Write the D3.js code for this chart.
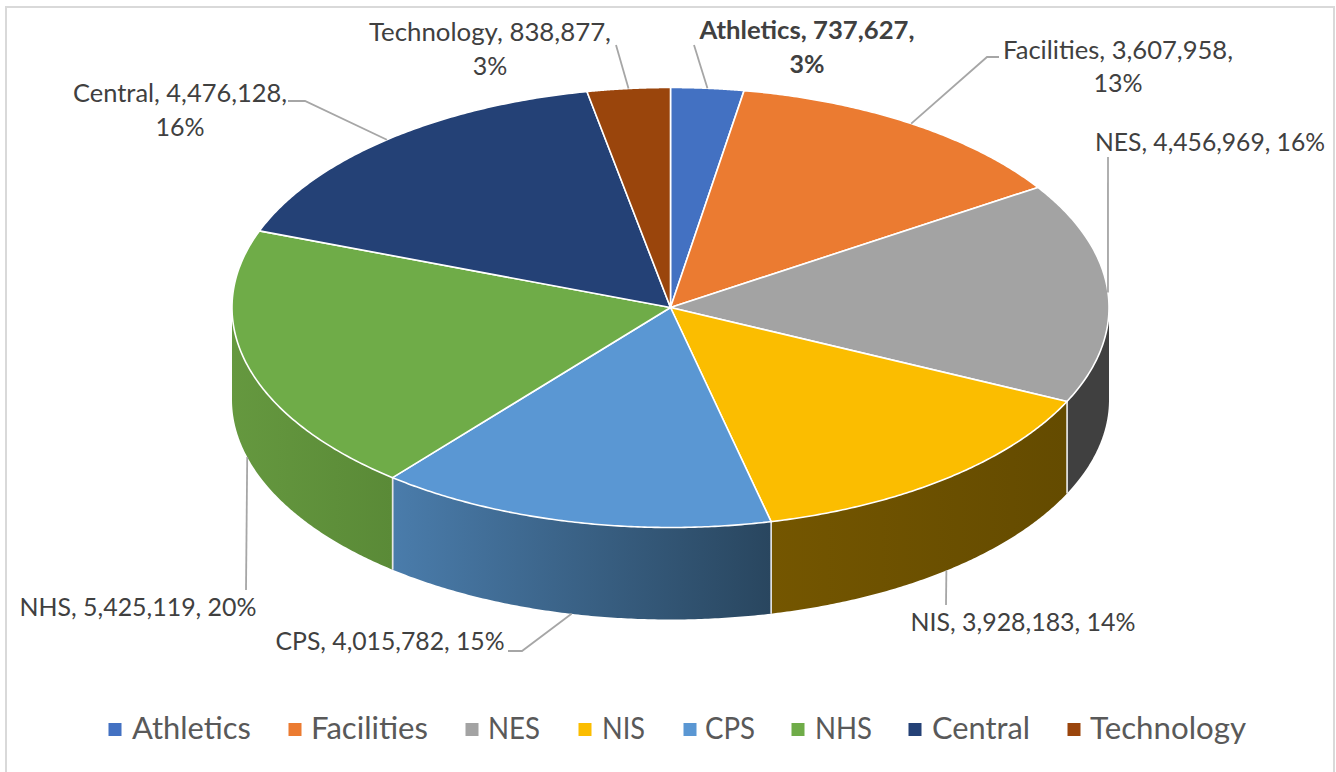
<!DOCTYPE html>
<html><head><meta charset="utf-8">
<script src="https://cdn.jsdelivr.net/npm/d3@7/dist/d3.min.js"></script>
<style>html,body{margin:0;padding:0;background:#fff}svg{display:block}text{font-family:Lato,"Open Sans",sans-serif}</style>
</head><body><svg id="c" width="1336" height="772"></svg>
<script>
const categories=["Athletics","Facilities","NES","NIS","CPS","NHS","Central","Technology"];
const values=[737627,3607958,4456969,3928183,4015782,5425119,4476128,838877];
const percents=["3%","13%","16%","14%","15%","20%","16%","3%"];
const topColors=["#4371C2","#EB7B31","#A3A3A3","#FBBD00","#5A97D3","#6FAC48","#244176","#9A450C"];
// wall shading [left colour, right colour] per category
const wallColors={NES:["#404040","#404040"],NIS:["#745600","#644B00"],CPS:["#4A7CAB","#29465F"],NHS:["#65983F","#5A8A37"]};

// label layout: text centre, line centres, first-line width, leader end points
const labelLayout=[
 {cx:807,ys:[30,64],w:215,bold:true,leader:[[694,45]],wrap:true},
 {cx:1118,ys:[50,83],w:230,leader:[[987,57],[999,57]],wrap:true},
 {cx:1210,ys:[142],w:230,leader:[[1108,157]]},
 {cx:1023,ys:[622],w:225,leader:[[946,605]]},
 {cx:390,ys:[641],w:229,leader:[[522,651],[508,651]]},
 {cx:138,ys:[607],w:237,leader:[[246,590]]},
 {cx:180,ys:[93,127],w:214,leader:[[305,101],[288,101]],wrap:true},
 {cx:490,ys:[32,66],w:242,leader:[[616,45]],wrap:true}
];
const legendLayout=[[108.5,132,119],[288.5,311,117],[465.5,488,52],[578.5,602,43],[683.5,705,50],[791.5,815,57],[908.5,932,98],[1067.5,1090,156]];

const W=1336,H=772,cx=670.5,cy=307.5,rx=438.5,ry=220,depth=92;
const svg=d3.select("#c");
const fmt=d3.format(",");
const pie=d3.pie().sort(null)(values);
const sx=d3.scaleLinear().domain([-1,1]).range([cx-rx,cx+rx]);
const sy=d3.scaleLinear().domain([-1,1]).range([cy+ry,cy-ry]);
const px=a=>[sx(Math.sin(a)),sy(Math.cos(a))];
const line=d3.line();
const arcPts=(a0,a1)=>d3.range(0,121).map(i=>px(a0+(a1-a0)*i/120));

// chart frame
svg.append("rect").attr("x",6).attr("y",7).attr("width",1328).attr("height",790)
  .attr("fill","#fff").attr("stroke","#d9d9d9").attr("stroke-width",2);

const defs=svg.append("defs");
// side walls
const front0=Math.PI/2,front1=Math.PI*1.5;
pie.forEach((p,i)=>{
  const cols=wallColors[categories[i]];
  if(!cols) return;
  const a0=Math.max(p.startAngle,front0),a1=Math.min(p.endAngle,front1);
  if(a1<=a0) return;
  const top=arcPts(a0,a1);
  const pts=top.concat(top.slice().reverse().map(q=>[q[0],q[1]+depth]));
  const id="w"+i;
  const xs=top.map(q=>q[0]);
  const g=defs.append("linearGradient").attr("id",id).attr("gradientUnits","userSpaceOnUse")
    .attr("x1",d3.min(xs)).attr("x2",d3.max(xs)).attr("y1",0).attr("y2",0);
  g.append("stop").attr("offset",0).attr("stop-color",cols[0]);
  g.append("stop").attr("offset",1).attr("stop-color",cols[1]);
  svg.append("path").attr("d",line(pts)+"Z").attr("fill",`url(#${id})`)
    .attr("stroke","none");
  // pale seam at wall edges that lie inside the visible front
  [[p.startAngle,a0],[p.endAngle,a1]].forEach(([e,a])=>{
    if(e===a){const q=px(a);
      svg.append("line").attr("x1",q[0]).attr("x2",q[0]).attr("y1",q[1]).attr("y2",q[1]+depth)
        .attr("stroke","#e6e6e6").attr("stroke-width",1.5);}
  });
});
// top slices
pie.forEach((p,i)=>{
  const pts=[[cx,cy]].concat(arcPts(p.startAngle,p.endAngle));
  svg.append("path").attr("d",line(pts)+"Z").attr("fill",topColors[i])
    .attr("stroke","#fff").attr("stroke-width",1.6).attr("stroke-linejoin","round");
});
// leaders & labels
const ly=svg.append("g");
pie.forEach((p,i)=>{
  const L=labelLayout[i],mid=(p.startAngle+p.endAngle)/2;
  let a=px(mid);
  const isFront=Math.cos(mid)<0&&categories[i]!=="NES";
  if(isFront) a=[a[0],a[1]+depth];
  ly.append("path").attr("d",line([a].concat(L.leader))).attr("fill","none")
    .attr("stroke","#a6a6a6").attr("stroke-width",1.8);
  const s=`${categories[i]}, ${fmt(values[i])},`;
  const lines=L.wrap?[s,percents[i]]:[`${s} ${percents[i]}`];
  lines.forEach((t,j)=>{
    const el=ly.append("text").attr("x",L.cx).attr("y",L.ys[j]).attr("dy","0.35em").attr("text-anchor","middle")
      .attr("font-size",25).attr("font-weight",L.bold?700:400).attr("fill","#404040").text(t);
    if(j===0) el.attr("textLength",L.w).attr("lengthAdjust","spacingAndGlyphs");
  });
});
// legend
categories.forEach((c,i)=>{
  const [mx,tx,tw]=legendLayout[i];
  svg.append("rect").attr("x",mx).attr("y",723).attr("width",13).attr("height",13).attr("fill",topColors[i]);
  svg.append("text").attr("x",tx).attr("y",739).attr("font-size",30.5).attr("fill","#595959")
    .attr("textLength",tw).attr("lengthAdjust","spacingAndGlyphs").text(c);
});
</script></body></html>
